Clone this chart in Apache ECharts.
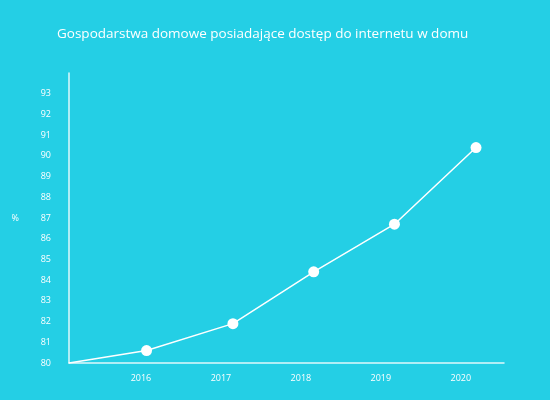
<!DOCTYPE html>
<html lang="pl">
<head>
<meta charset="UTF-8">
<title>Dostęp do internetu</title>
<script src="https://cdn.jsdelivr.net/npm/echarts@6/dist/echarts.min.js"></script>
<style>
  html, body { margin: 0; padding: 0; background: #24cfe5; }
  #main { width: 550px; height: 400px; }
</style>
</head>
<body>
<div id="main"></div>
<script>
  // x position of each point (in years) and share of households (%)
  var years = [2016.07, 2017.15, 2018.16, 2019.17, 2020.19];
  var values = [80.6, 81.9, 84.4, 86.7, 90.4];
  var yearLabels = [2016, 2017, 2018, 2019, 2020];
  var yLabels = [80, 81, 82, 83, 84, 85, 86, 87, 88, 89, 90, 91, 92, 93];
  var xMin = 2015.1, xMax = 2020.54;
  var yMin = 80, yMax = 94;

  // the line starts in the corner of the axes
  var points = [[xMin, yMin, false]];
  for (var i = 0; i < years.length; i++) {
    points.push([years[i], values[i], true]);
  }

  var myChart = echarts.init(document.getElementById('main'));
  var option = {
    backgroundColor: '#24cfe5',
    textStyle: { fontFamily: 'Open Sans' },
    title: {
      text: 'Gospodarstwa domowe posiadające dostęp do internetu w domu',
      left: 52,
      top: 22,
      textStyle: { color: '#fff', fontSize: 13.5, fontWeight: 'normal', fontFamily: 'Open Sans' }
    },
    grid: { left: 69, right: 46, top: 73, bottom: 37 },
    xAxis: {
      type: 'value',
      min: xMin,
      max: xMax,
      splitLine: { show: false },
      axisLine: { show: true, lineStyle: { color: 'rgba(255,255,255,0.85)', width: 1.5 } },
      axisTick: { show: false, customValues: yearLabels },
      axisLabel: {
        customValues: yearLabels,
        formatter: function (v) { return String(v); },
        color: '#fff',
        fontSize: 9,
        margin: 11
      }
    },
    yAxis: {
      type: 'value',
      min: yMin,
      max: yMax,
      name: '%',
      nameLocation: 'middle',
      nameRotate: 0,
      nameGap: 50,
      nameTextStyle: { color: '#fff', fontSize: 9, padding: [0, 0, 8, 0] },
      splitLine: { show: false },
      axisLine: { show: true, lineStyle: { color: 'rgba(255,255,255,0.85)', width: 1.5 } },
      axisTick: { show: false, customValues: yLabels },
      axisLabel: {
        customValues: yLabels,
        color: '#fff',
        fontSize: 9,
        margin: 18
      }
    },
    series: [{
      type: 'line',
      data: points.map(function (p) {
        return { value: [p[0], p[1]], symbolSize: p[2] ? 11 : 0 };
      }),
      symbol: 'circle',
      showAllSymbol: true,
      lineStyle: { color: '#fff', width: 1.5 },
      itemStyle: { color: '#fff' },
      animation: false
    }]
  };
  myChart.setOption(option);
</script>
</body>
</html>
